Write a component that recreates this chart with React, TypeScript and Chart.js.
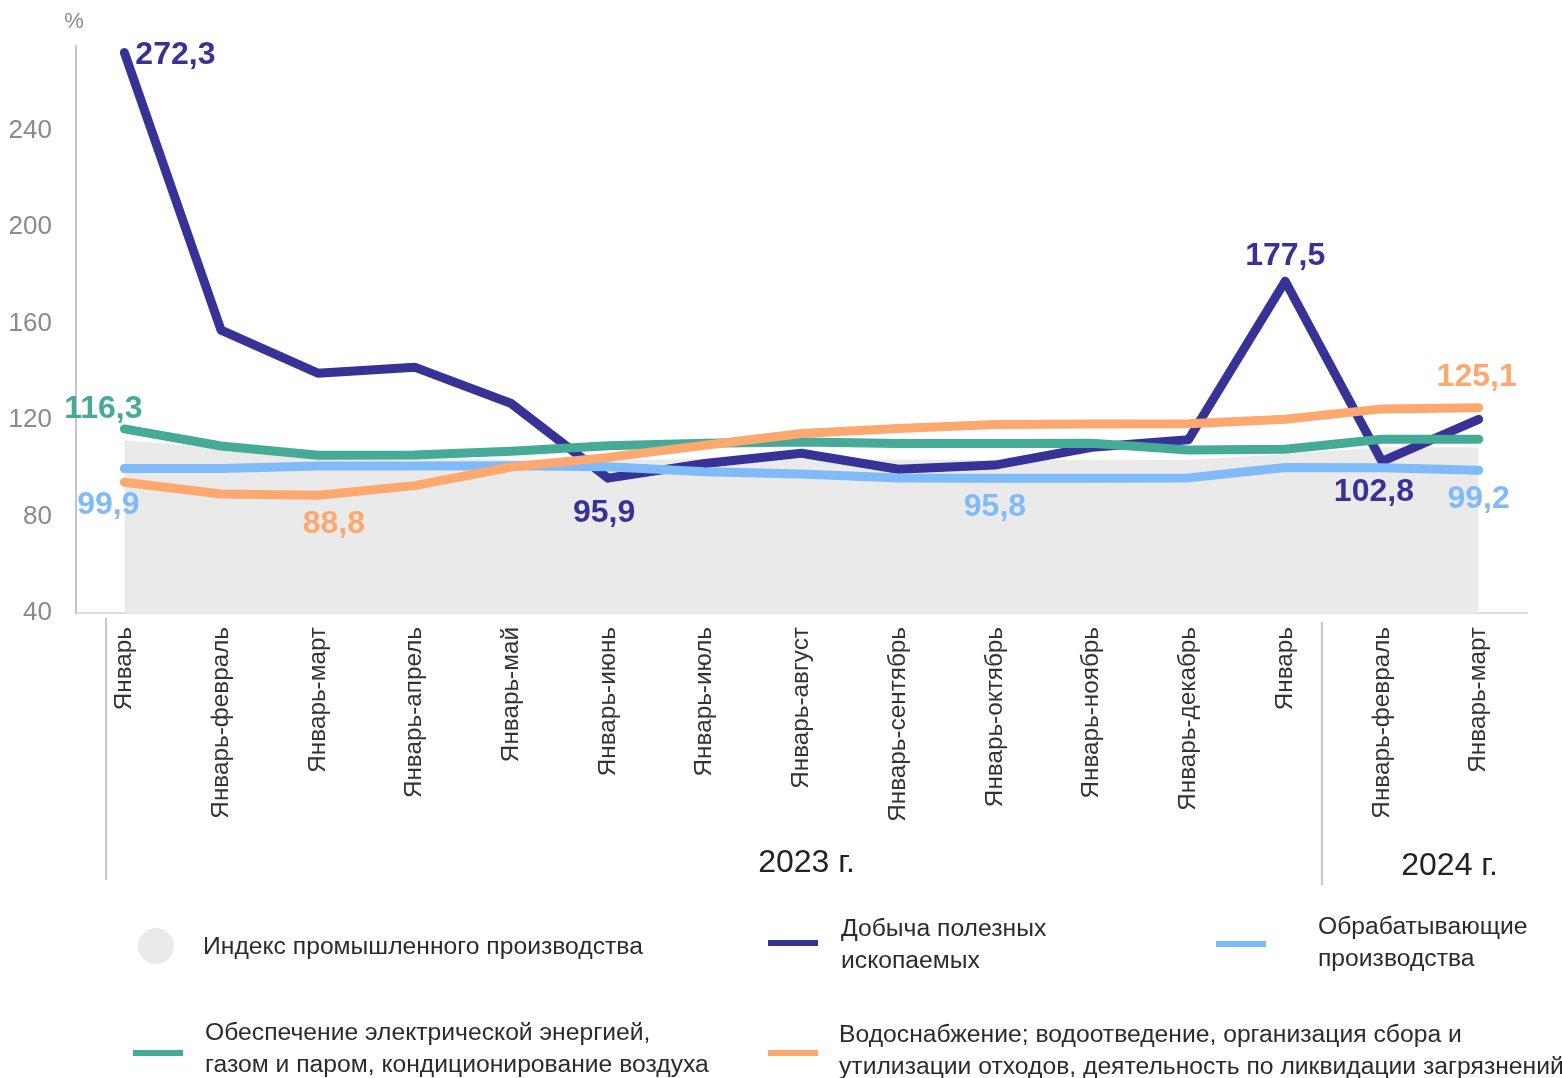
import React, { useEffect, useRef } from 'react';
import { Chart, registerables } from 'chart.js';

Chart.register(...registerables);

const categories = [
  'Январь', 'Январь-февраль', 'Январь-март', 'Январь-апрель', 'Январь-май',
  'Январь-июнь', 'Январь-июль', 'Январь-август', 'Январь-сентябрь', 'Январь-октябрь',
  'Январь-ноябрь', 'Январь-декабрь', 'Январь', 'Январь-февраль', 'Январь-март',
];
const industrialIndex = [111.6, 108.3, 105.2, 104.2, 103.6, 103.5, 103.7, 103.8, 103.6, 103.4, 103.4, 103.4, 105.8, 108.7, 108.7];
const mining = [272.3, 157.2, 139.4, 141.9, 126.8, 95.9, 102.0, 106.2, 99.6, 101.3, 108.7, 111.8, 177.5, 102.8, 120.3];
const manufacturing = [99.9, 99.9, 100.9, 100.9, 101.0, 100.6, 98.5, 97.6, 96.0, 95.8, 95.9, 96.0, 100.3, 100.2, 99.2];
const electricity = [116.3, 109.2, 105.4, 105.5, 107.0, 109.3, 110.4, 110.9, 110.2, 110.2, 110.4, 107.6, 107.9, 112.0, 112.0];
const water = [94.2, 89.3, 88.8, 92.8, 100.5, 104.5, 109.5, 114.4, 116.5, 118.1, 118.3, 118.4, 120.3, 124.6, 125.1];
const yearLabels = ['2023 г.', '2024 г.'];
const legendNames = [
  'Индекс промышленного производства',
  'Добыча полезных\nископаемых',
  'Обрабатывающие\nпроизводства',
  'Обеспечение электрической энергией,\nгазом и паром, кондиционирование воздуха',
  'Водоснабжение; водоотведение, организация сбора и\nутилизации отходов, деятельность по ликвидации загрязнений',
];

const C_GREY = '#eaeaea';
const C_MINING = '#373296';
const C_MANUF = '#7fbaf9';
const C_ELEC = '#45aa96';
const C_WATER = '#fda86f';
const FONT = "'Liberation Sans', Arial, sans-serif";

// value annotations: dataset index, point index, offset, alignment
const annotations = [
  { ds: 1, i: 0, dx: 11, dy: 3, align: 'left' },
  { ds: 3, i: 0, dx: -21, dy: -20, align: 'center' },
  { ds: 2, i: 0, dx: -16, dy: 37, align: 'center' },
  { ds: 4, i: 2, dx: 16, dy: 29, align: 'center' },
  { ds: 1, i: 5, dx: -4, dy: 35, align: 'center' },
  { ds: 2, i: 9, dx: 0, dy: 29, align: 'center' },
  { ds: 1, i: 12, dx: 0, dy: -25, align: 'center' },
  { ds: 1, i: 13, dx: -8, dy: 31, align: 'center' },
  { ds: 4, i: 14, dx: -2, dy: -31, align: 'center' },
  { ds: 2, i: 14, dx: 0, dy: 29, align: 'center' },
];

const fmt = (v: number) => v.toFixed(1).replace('.', ',');

const overlayPlugin = {
  id: 'overlay',
  afterDatasetsDraw(chart: any) {
    const ctx = chart.ctx;
    ctx.save();
    ctx.font = `bold 32px ${FONT}`;
    ctx.textBaseline = 'middle';
    for (const a of annotations) {
      const ds = chart.data.datasets[a.ds];
      const pt = chart.getDatasetMeta(a.ds).data[a.i];
      ctx.fillStyle = ds.borderColor;
      ctx.textAlign = a.align;
      ctx.fillText(fmt(ds.data[a.i]), pt.x + a.dx, pt.y + a.dy);
    }
    ctx.restore();
  },
  afterDraw(chart: any) {
    const ctx = chart.ctx;
    const x = chart.scales.x;
    const y = chart.scales.y;
    const step = x.getPixelForValue(1) - x.getPixelForValue(0);
    ctx.save();
    ctx.fillStyle = '#8a8a8a';
    ctx.font = `22px ${FONT}`;
    ctx.textAlign = 'center';
    ctx.textBaseline = 'middle';
    ctx.fillText('%', 74, 22);
    ctx.strokeStyle = '#c6c6c6';
    ctx.lineWidth = 2;
    const s1 = x.getPixelForValue(0) - step * 0.19;
    const s2 = x.getPixelForValue(12) + step * 0.38;
    ctx.beginPath();
    ctx.moveTo(s1, y.bottom + 5);
    ctx.lineTo(s1, y.bottom + 267);
    ctx.moveTo(s2, y.bottom + 9);
    ctx.lineTo(s2, y.bottom + 272);
    ctx.stroke();
    ctx.fillStyle = '#222';
    ctx.font = `32px ${FONT}`;
    ctx.fillText(yearLabels[0], x.getPixelForValue(7) + 5, y.bottom + 250);
    ctx.fillText(yearLabels[1], x.getPixelForValue(13) + step * 0.7, y.bottom + 253);
    ctx.restore();
  },
};

export default function App() {
  const ref = useRef<HTMLCanvasElement>(null);
  useEffect(() => {
    const lineStyle = { borderWidth: 9, pointRadius: 0, borderCapStyle: 'round', borderJoinStyle: 'round', fill: false };
    const chart = new Chart(ref.current as HTMLCanvasElement, {
      type: 'line',
      data: {
        labels: categories,
        datasets: [
          { label: legendNames[0], data: industrialIndex, borderWidth: 0, borderColor: C_GREY, backgroundColor: C_GREY, fill: 'start', pointRadius: 0, order: 5 },
          { label: legendNames[1], data: mining, borderColor: C_MINING, order: 4, ...lineStyle },
          { label: legendNames[2], data: manufacturing, borderColor: C_MANUF, order: 3, ...lineStyle },
          { label: legendNames[3], data: electricity, borderColor: C_ELEC, order: 2, ...lineStyle },
          { label: legendNames[4], data: water, borderColor: C_WATER, order: 1, ...lineStyle },
        ],
      },
      options: {
        responsive: false,
        animation: false,
        devicePixelRatio: 1,
        layout: { padding: { top: 46, right: 35, left: 0, bottom: 0 } },
        plugins: { legend: { display: false }, tooltip: { enabled: false } },
        scales: {
          x: {
            offset: true,
            grid: { display: false, drawTicks: false },
            border: { color: '#dedede', width: 2 },
            ticks: {
              autoSkip: false,
              minRotation: 90,
              maxRotation: 90,
              padding: 14,
              color: '#333',
              font: { family: FONT, size: 24.3 },
            },
            afterFit: (s: any) => { s.height = 465; },
          },
          y: {
            min: 40,
            max: 275,
            grid: { display: false, drawTicks: false },
            border: { color: '#c6c6c6', width: 2 },
            ticks: {
              stepSize: 40,
              includeBounds: false,
              padding: 24,
              color: '#8a8a8a',
              font: { family: FONT, size: 26 },
            },
            afterFit: (s: any) => { s.width = 76; },
          },
        },
      },
      plugins: [overlayPlugin],
    } as any);
    return () => chart.destroy();
  }, []);

  const text: React.CSSProperties = {
    position: 'absolute',
    fontFamily: FONT,
    fontSize: 24.7,
    lineHeight: '32px',
    color: '#2b2b2b',
    whiteSpace: 'pre',
  };
  const sw = (left: number, top: number, color: string): React.CSSProperties => ({
    position: 'absolute', left, top: top - 3, width: 50, height: 6, background: color,
  });

  return (
    <div style={{ position: 'absolute', left: 0, top: 0, width: 1562, height: 1078, overflow: 'hidden', background: '#fff' }}>
      <canvas ref={ref} width={1562} height={1078} style={{ position: 'absolute', left: 0, top: 0 }} />
      <div style={{ position: 'absolute', left: 138, top: 928, width: 36, height: 36, borderRadius: '50%', background: C_GREY }} />
      <div style={{ ...text, left: 203, top: 930 }}>{legendNames[0]}</div>
      <div style={sw(768, 943, C_MINING)} />
      <div style={{ ...text, left: 841, top: 912 }}>{legendNames[1]}</div>
      <div style={sw(1216, 944, C_MANUF)} />
      <div style={{ ...text, left: 1318, top: 910 }}>{legendNames[2]}</div>
      <div style={sw(133, 1053, C_ELEC)} />
      <div style={{ ...text, left: 205, top: 1016 }}>{legendNames[3]}</div>
      <div style={sw(768, 1053, C_WATER)} />
      <div style={{ ...text, left: 839, top: 1018 }}>{legendNames[4]}</div>
    </div>
  );
}
